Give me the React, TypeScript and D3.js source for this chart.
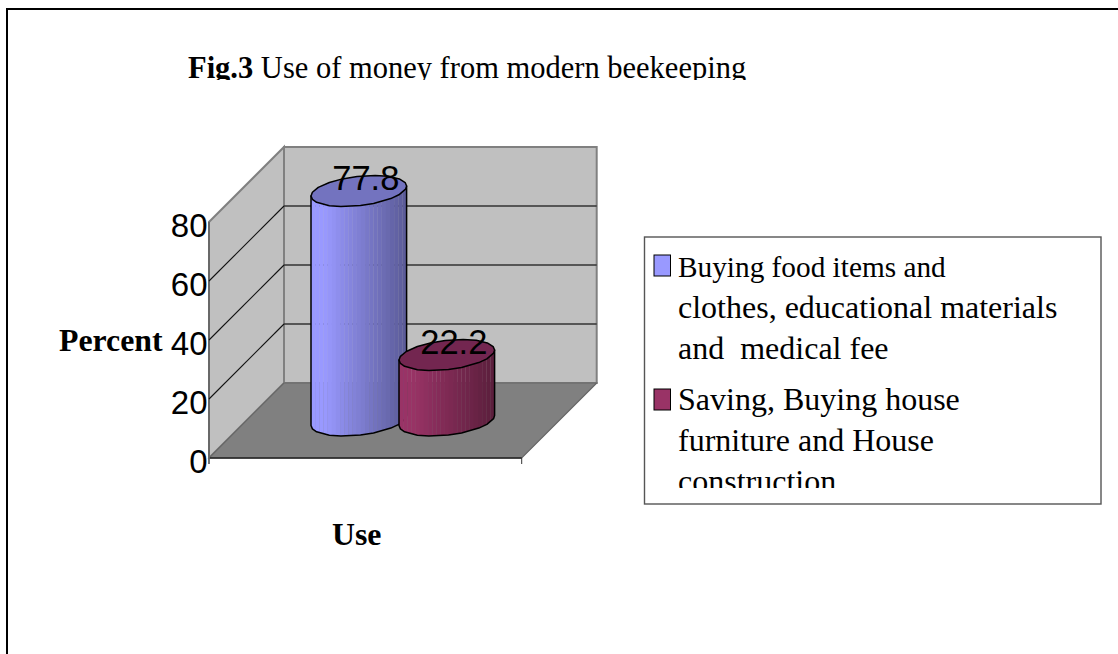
import React from "react";
import * as d3 from "d3";

const titleBold = "Fig.3";
const titleRest = " Use of money from modern beekeeping";
const yTicks = [0, 20, 40, 60, 80];
const seriesNames = ["food", "saving"];
const seriesValues = [77.8, 22.2];
const valueLabels = ["77.8", "22.2"];
const lightColors = ["#9999ff", "#993366"];
const darkColors = ["#5c5c99", "#5c1f3d"];
const topColors = ["#7373bf", "#732650"];
const legendLines = [
  ["Buying food items and", "clothes, educational materials", "and  medical fee"],
  ["Saving, Buying house", "furniture and House", "construction"],
];
const yAxisTitle = "Percent";
const xAxisTitle = "Use";
// rim facets of the drawn cylinders, degrees round the ellipse
const facetAngles = [0, 12, 33, 48, 72, 88, 112, 128, 152, 166, 180, 194, 212, 232, 250, 268, 290, 308, 328, 346];

const W = 1118, H = 654;
const depth = 75;
const x0 = 209, x1 = 521.7;
const y = d3.scaleLinear().domain([0, 80]).range([458, 222]);
const band = d3.scaleBand<string>().domain(seriesNames).range([277.3, 453.3]);
const line = d3.line<[number, number]>().curve(d3.curveLinear);
const serif = "'Liberation Serif', serif";
const sans = "'Liberation Sans', sans-serif";

const RX = 47.8, RY = 14.7, SK = 5;
const angles = facetAngles.map((d) => (d / 180) * Math.PI);
const pt = (cx: number, cy: number, t: number): [number, number] => [
  cx + RX * Math.cos(t),
  cy + RY * Math.sin(t) - SK * Math.cos(t),
];

function Cylinder({ i }: { i: number }) {
  const name = seriesNames[i];
  const cx = band(name)! + band.bandwidth() / 2 + depth / 2;
  const base = y(0) - depth / 2;
  const top = y(seriesValues[i]) - depth / 2;
  const front = angles.filter((t) => t <= Math.PI);
  const outline: [number, number][] = [
    ...front.map((t) => pt(cx, base, t)),
    pt(cx, top, Math.PI),
    pt(cx, top, 0),
  ];
  const color = d3.interpolateRgb(lightColors[i], darkColors[i]);
  const n = 23;
  const step = (RX * 2) / n;
  const xs = d3.range(0, n).map((k) => cx - RX + k * step);
  return (
    <g>
      <clipPath id={`body-${i}`}>
        <path d={line(outline)! + "Z"} />
      </clipPath>
      <g clipPath={`url(#body-${i})`}>
        {xs.map((sx, k) => (
          <rect
            key={k}
            x={sx}
            y={top - 30}
            width={step + 0.2}
            height={base - top + 60}
            fill={color(Math.max(0, (k / (n - 1) - 0.12) / 0.88))}
          />
        ))}
      </g>
      <path d={line(outline)! + "Z"} fill="none" stroke="#000" strokeWidth={1.5} strokeLinejoin="round" />
      <path
        d={line(angles.map((t) => pt(cx, top, t)))! + "Z"}
        fill={topColors[i]}
        stroke="#000"
        strokeWidth={1.5}
        strokeLinejoin="round"
      />
    </g>
  );
}

export default function App() {
  const floor: [number, number][] = [
    [x0, y(0)],
    [x1, y(0)],
    [x1 + depth, y(0) - depth],
    [x0 + depth, y(0) - depth],
  ];
  const back: [number, number][] = [
    [x0 + depth, y(0) - depth],
    [x1 + depth, y(0) - depth],
    [x1 + depth, y(80) - depth],
    [x0 + depth, y(80) - depth],
  ];
  const side: [number, number][] = [
    [x0, y(0)],
    [x0 + depth, y(0) - depth],
    [x0 + depth, y(80) - depth],
    [x0, y(80)],
  ];
  return (
    <svg
      width={W}
      height={H}
      viewBox={`0 0 ${W} ${H}`}
      style={{ position: "absolute", left: 0, top: 0, background: "#fff" }}
    >
      <defs>
        <clipPath id="titleClip">
          <rect x={150} y={40} width={650} height={40} />
        </clipPath>
        <clipPath id="legendClip">
          <rect x={646} y={238} width={455} height={250} />
        </clipPath>
      </defs>
      <line x1={7} y1={9} x2={W} y2={9} stroke="#000" strokeWidth={2} />
      <line x1={7} y1={8} x2={7} y2={H} stroke="#000" strokeWidth={2} />

      <text clipPath="url(#titleClip)" x={188} y={78} fontFamily={serif} fontSize={30.5} fill="#000" xmlSpace="preserve">
        <tspan fontWeight="bold">{titleBold}</tspan>
        <tspan>{titleRest}</tspan>
      </text>

      <path d={line(back)! + "Z"} fill="#c0c0c0" stroke="#808080" strokeWidth={2} />
      <path d={line(side)! + "Z"} fill="#c0c0c0" stroke="#808080" strokeWidth={2} />
      <path d={line(floor)! + "Z"} fill="#808080" stroke="#666" strokeWidth={1.2} />
      <line x1={x0} y1={y(0)} x2={x1} y2={y(0)} stroke="#222" strokeWidth={1.5} />
      <line x1={x1} y1={y(0)} x2={x1} y2={y(0) + 6} stroke="#333" strokeWidth={1} />
      <line x1={x0} y1={y(80)} x2={x0} y2={y(0) + 6} stroke="#666" strokeWidth={1.8} />

      {yTicks.filter((t) => t > 0 && t < 80).map((t) => (
        <g key={t}>
          <line x1={x0} y1={y(t)} x2={x0 + depth} y2={y(t) - depth} stroke="#111" strokeWidth={1.1} />
          <line x1={x0 + depth} y1={y(t) - depth} x2={x1 + depth} y2={y(t) - depth} stroke="#333" strokeWidth={1.5} />
        </g>
      ))}
      {yTicks.map((t) => (
        <text key={t} x={207.5} y={y(t) + 15} textAnchor="end" fontFamily={sans} fontSize={33} fill="#000">
          {t}
        </text>
      ))}

      <Cylinder i={0} />
      <Cylinder i={1} />

      {seriesNames.map((name, i) => (
        <text
          key={name}
          x={band(name)! + band.bandwidth() / 2 + depth / 2 + 7}
          y={y(seriesValues[i]) - depth / 2 - 1}
          textAnchor="middle"
          fontFamily={sans}
          fontSize={34.5}
          fill="#000"
        >
          {valueLabels[i]}
        </text>
      ))}

      <text x={59} y={351} fontFamily={serif} fontWeight="bold" fontSize={31.8} fill="#000">{yAxisTitle}</text>
      <text x={332} y={544.5} fontFamily={serif} fontWeight="bold" fontSize={31.8} fill="#000">{xAxisTitle}</text>

      <rect x={644.5} y={237} width={456.5} height={267} fill="#fff" stroke="#555" strokeWidth={1.4} />
      <g clipPath="url(#legendClip)">
        {legendLines.map((lines, i) => (
          <g key={i}>
            <rect
              x={654}
              y={i === 0 ? 255 : 389}
              width={16.5}
              height={21}
              fill={lightColors[i]}
              stroke="#000"
              strokeWidth={1}
            />
            {lines.map((l, j) => (
              <text
                key={j}
                x={678}
                y={i === 0 ? 276.5 + j * 41 : 410 + j * 41}
                fontFamily={serif}
                fontSize={i === 0 && j === 0 ? 29.3 : 32}
                fill="#000"
                xmlSpace="preserve"
              >
                {l}
              </text>
            ))}
          </g>
        ))}
      </g>
    </svg>
  );
}
